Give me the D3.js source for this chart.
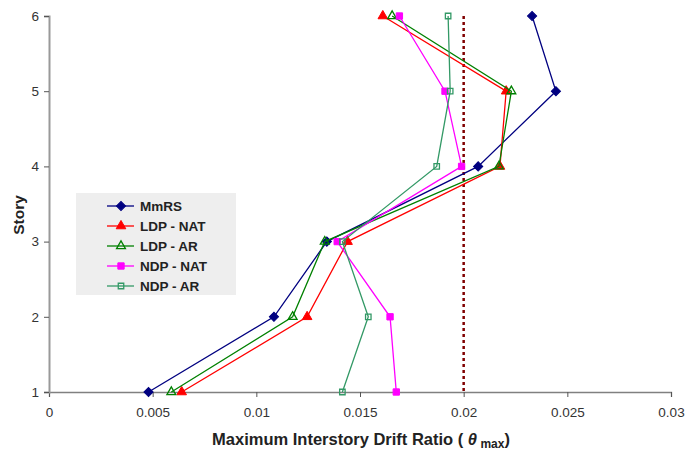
<!DOCTYPE html>
<html>
<head>
<meta charset="utf-8">
<script src="https://cdn.jsdelivr.net/npm/d3@7"></script>
<style>
  body { margin: 0; background: #fff; }
  svg { font-family: "Liberation Sans", Arial, sans-serif; }
</style>
</head>
<body>
<div id="chart"></div>
<script>
const stories = [1, 2, 3, 4, 5, 6];
const mmrs   = [0.0048, 0.01085, 0.0134, 0.0207, 0.02445, 0.0233];
const ldpNat = [0.0064, 0.01245, 0.0144, 0.02175, 0.02205, 0.0161];
const ldpAr  = [0.0059, 0.01175, 0.0133, 0.0217, 0.0223, 0.01655];
const ndpNat = [0.01675, 0.01645, 0.0139, 0.0199, 0.0191, 0.0169];
const ndpAr  = [0.01415, 0.0154, 0.01415, 0.0187, 0.01935, 0.01925];
const xTicks = [0, 0.005, 0.01, 0.015, 0.02, 0.025, 0.03];
const limit = 0.02;

const seriesList = [
  { name: 'MmRS', values: mmrs, color: '#000080', shape: 'diamond', fill: true },
  { name: 'LDP - NAT', values: ldpNat, color: '#ff0000', shape: 'triangle', fill: true },
  { name: 'LDP - AR', values: ldpAr, color: '#008000', shape: 'triangle', fill: false },
  { name: 'NDP - NAT', values: ndpNat, color: '#ff00ff', shape: 'square', fill: true },
  { name: 'NDP - AR', values: ndpAr, color: '#339966', shape: 'square', fill: false }
];

const width = 686, height = 450;
const svg = d3.select('#chart').append('svg')
  .attr('width', width)
  .attr('height', height);

const x = d3.scaleLinear().domain([0, 0.03]).range([49, 671]);
const y = d3.scaleLinear().domain([1, 6]).range([392, 16]);

// axes
const xAxis = svg.append('g')
  .attr('transform', `translate(0,${y(1)})`)
  .call(d3.axisBottom(x).tickValues(xTicks).tickFormat(d => d === 0 ? '0' : String(+d.toFixed(3))).tickSizeOuter(0).tickSize(5).tickPadding(10));
xAxis.select('.domain').attr('stroke', '#808080').attr('stroke-width', 1.3);
xAxis.selectAll('.tick line').attr('stroke', '#555');
xAxis.selectAll('text').attr('font-size', 13.5).attr('fill', '#333');

const yAxis = svg.append('g')
  .attr('transform', `translate(${x(0)},0)`)
  .call(d3.axisLeft(y).tickValues(stories).tickFormat(d3.format('d')).tickSizeOuter(0).tickSize(5).tickPadding(5));
yAxis.select('.domain').attr('stroke', '#999').attr('stroke-width', 2);
yAxis.selectAll('.tick line').attr('stroke', '#555');
yAxis.selectAll('text').attr('font-size', 13.5).attr('fill', '#333');

// 0.02 limit line
svg.append('line')
  .attr('x1', x(limit)).attr('x2', x(limit))
  .attr('y1', y(6)).attr('y2', y(1))
  .attr('stroke', '#800000')
  .attr('stroke-width', 2.5)
  .attr('stroke-dasharray', '3,3');

const line = d3.line().x(d => x(d.v)).y(d => y(d.s));

function drawMarker(g, s, cx, cy) {
  let path, rot = 0;
  if (s.shape === 'diamond') {
    path = d3.symbol().type(d3.symbolSquare).size(42)();
    rot = 45;
  } else if (s.shape === 'triangle') {
    path = d3.symbol().type(d3.symbolTriangle).size(s.fill ? 40 : 34)();
  } else {
    path = d3.symbol().type(d3.symbolSquare).size(s.fill ? 40 : 30)();
  }
  g.append('path')
    .attr('d', path)
    .attr('transform', `translate(${cx},${cy}) rotate(${rot})`)
    .attr('fill', s.fill ? s.color : 'none')
    .attr('stroke', s.color)
    .attr('stroke-width', s.fill ? 1 : 1.3);
}

seriesList.forEach(s => {
  const pts = s.values.map((v, i) => ({ v, s: stories[i] }));
  svg.append('path')
    .datum(pts)
    .attr('d', line)
    .attr('fill', 'none')
    .attr('stroke', s.color)
    .attr('stroke-width', 1.3);
  const g = svg.append('g');
  pts.forEach(p => drawMarker(g, s, x(p.v), y(p.s)));
});

// legend
const legend = svg.append('g');
legend.append('rect')
  .attr('x', 76).attr('y', 193).attr('width', 160).attr('height', 102)
  .attr('fill', '#eeeeee');
seriesList.forEach((s, i) => {
  const ly = 206 + i * 20;
  legend.append('line')
    .attr('x1', 107).attr('x2', 134).attr('y1', ly).attr('y2', ly)
    .attr('stroke', s.color).attr('stroke-width', 1.3);
  drawMarker(legend, s, 121, ly);
  legend.append('text')
    .attr('x', 140).attr('y', ly + 5)
    .attr('font-size', 13.5).attr('font-weight', 'bold').attr('fill', '#222')
    .text(s.name);
});

// axis titles
svg.append('text')
  .attr('transform', 'translate(24,215) rotate(-90)')
  .attr('text-anchor', 'middle')
  .attr('font-size', 15.5).attr('font-weight', 'bold').attr('fill', '#222')
  .text('Story');

const xt = svg.append('text')
  .attr('x', 361).attr('y', 445)
  .attr('text-anchor', 'middle')
  .attr('font-size', 16.5).attr('font-weight', 'bold').attr('fill', '#222');
xt.append('tspan').text('Maximum Interstory Drift Ratio ( ');
xt.append('tspan').attr('font-style', 'italic').text('θ');
xt.append('tspan').attr('font-size', 12).attr('dy', 3).text(' max');
xt.append('tspan').attr('dy', -3).text(')');
</script>
</body>
</html>
